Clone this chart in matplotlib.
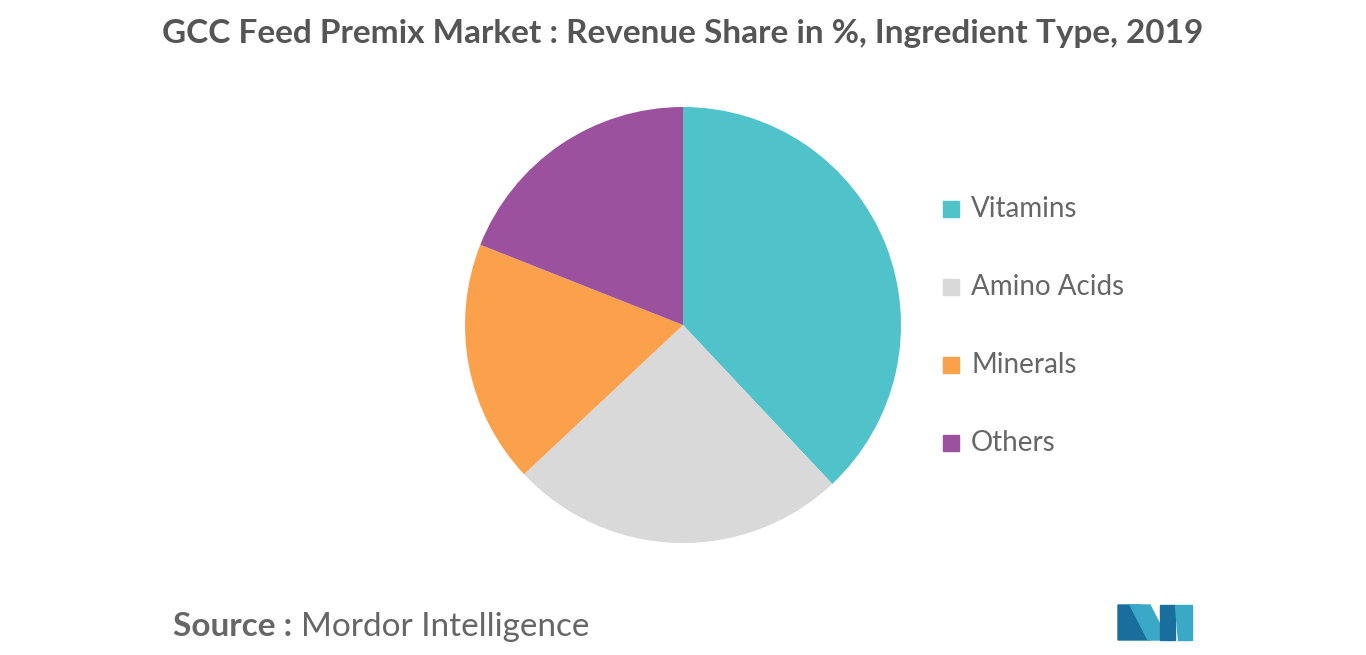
import matplotlib.pyplot as plt
from matplotlib.patches import Polygon, Rectangle

categories = ["Vitamins", "Amino Acids", "Minerals", "Others"]
shares = [38, 25, 18, 19]
colors = ["#4fc3c9", "#d9d9d9", "#fba04b", "#9b519e"]

fig = plt.figure(figsize=(13.66, 6.55), dpi=100)
fig.patch.set_facecolor("white")

# pie area: centre ~ (683, 325) px, radius ~218 px
ax = fig.add_axes([(683 - 218) / 1366, (655 - 325 - 218) / 655, 436 / 1366, 436 / 655])
ax.pie(shares, colors=colors, startangle=90, counterclock=False, radius=1,
       wedgeprops=dict(linewidth=0))
ax.set_xlim(-1, 1)
ax.set_ylim(-1, 1)
ax.set_aspect("equal")

fig.text(0.5, 1 - 33 / 655, "GCC Feed Premix Market : Revenue Share in %, Ingredient Type, 2019",
         ha="center", va="center", fontsize=24, fontweight="bold", color="#555555",
         family="Lato")

# legend
for i, (name, col) in enumerate(zip(categories, colors)):
    y = 209 + i * 78
    fig.patches.append(Rectangle(((943) / 1366, 1 - (y + 8) / 655), 16 / 1366, 16 / 655,
                                 transform=fig.transFigure, color=col))
    fig.text(971 / 1366, 1 - y / 655, name, va="center", ha="left",
             fontsize=20, color="#666666", family="Lato")

fig.text(173 / 1366, 1 - 627 / 655, "Source :", va="center", ha="left",
         fontsize=24, fontweight="bold", color="#666666", family="Lato")
fig.text(301 / 1366, 1 - 627 / 655, "Mordor Intelligence", va="center", ha="left",
         fontsize=24, color="#666666", family="Lato")

# logo
def px(pts):
    return [(x / 1366, 1 - y / 655) for x, y in pts]

logo = [
    ([(1118, 640), (1118, 605), (1140, 605), (1150, 640)], "#1a6e9e"),
    ([(1130, 605), (1150, 605), (1168, 640), (1148, 640)], "#3aa9c7"),
    ([(1160, 640), (1160, 605), (1175, 605), (1175, 640)], "#1a6e9e"),
    ([(1175, 605), (1192, 605), (1192, 640), (1178, 640)], "#3aa9c7"),
]
for pts, col in logo:
    fig.patches.append(Polygon(px(pts), closed=True, transform=fig.transFigure,
                               color=col))

fig.savefig("out.png", dpi=100)
